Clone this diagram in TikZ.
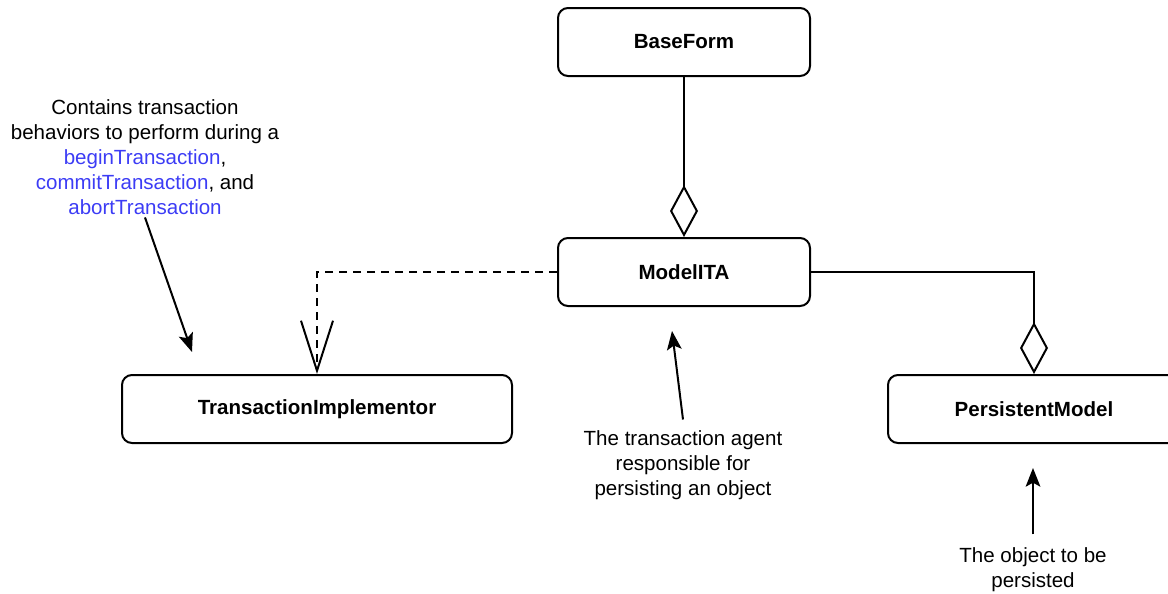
\documentclass[tikz,border=0pt]{standalone}
\usepackage{fontspec}
\setmainfont{Liberation Sans}
\usepackage{tikz}
\usetikzlibrary{arrows.meta}
\definecolor{methodblue}{RGB}{60,60,245}
\newcommand{\mth}[1]{\textcolor{methodblue}{#1}}

\begin{document}
\begin{tikzpicture}[x=0.75pt,y=-0.75pt,font=\fontsize{15.4}{18.75}\selectfont]
		\useasboundingbox (0,0) rectangle (1168,593);
		\begin{scope}[every node/.style={draw,thick,line width=1.5pt,rounded corners=7.5pt,
		              minimum height=51pt,font=\fontsize{15.4}{18.75}\selectfont\bfseries}]
		    \node[minimum width=189pt] (base-form) at (684,42) {BaseForm};
		    \node[minimum width=189pt] (model-ita) at (684,272) {ModelITA};
		    \node[minimum width=292.5pt] (trans-impl) at (317,409) {TransactionImplementor};
		    \node[minimum width=219pt] (pers-model) at (1034,409) {PersistentModel};
		\end{scope}

		\begin{scope}[every node/.style={align=center,inner sep=2pt}]
		    \node (note-trans) at (145,157) {Contains transaction\\behaviors to perform during a\\\mth{beginTransaction},\\\mth{commitTransaction}, and\\\mth{abortTransaction}};
		    \node (note-ita) at (683,465) {The transaction agent\\responsible for\\persisting an object};
		    \node (note-pers) at (1033,570) {The object to be\\persisted};
		\end{scope}

		\coordinate (tip-trans) at (192,352);
		\coordinate (tip-ita) at (672,331);
		\coordinate (tip-pers) at (1033,468);

		\begin{scope}[line width=1.5pt,
		              agg/.style={-{Diamond[open,length=39pt,width=21pt]}},
		              note/.style={-{Stealth[length=14pt,width=11pt,inset=3pt]}}]
		    \path (base-form) edge[agg] (model-ita);
		    \draw[agg] (model-ita.east) -| (pers-model.north);
		    \draw[dashed,dash pattern=on 6pt off 4.5pt,-{Straight Barb[length=37.5pt,width=24pt]}]
		        (model-ita.west) -| (trans-impl.north);
		    \path (note-trans.south) edge[note] (tip-trans);
		    \path ([yshift=6pt]note-ita.north) edge[note] (tip-ita);
		    \path ([yshift=8pt]note-pers.north) edge[note] (tip-pers);
		\end{scope}
\end{tikzpicture}
\end{document}
